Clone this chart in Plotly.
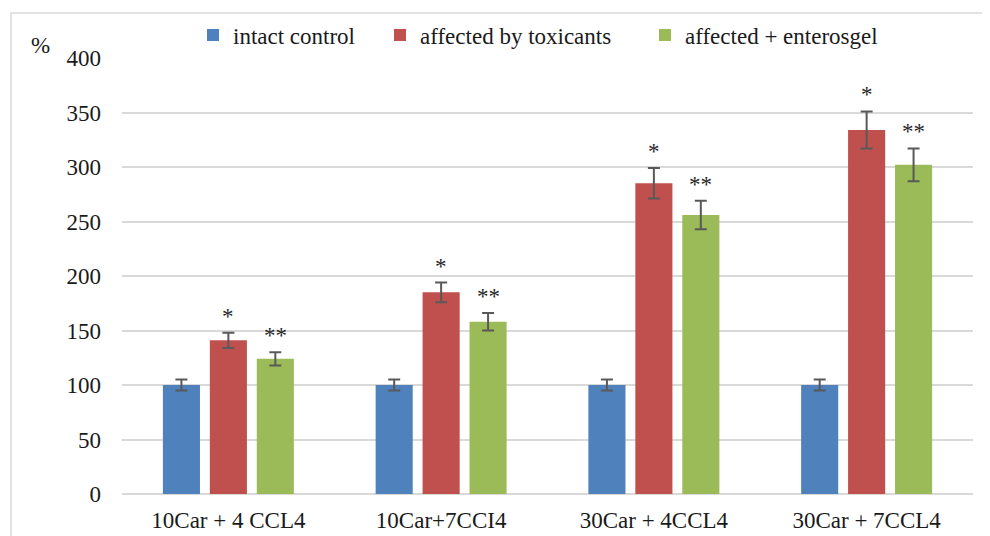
import plotly.graph_objects as go

categories = ["10Car + 4 CCL4", "10Car+7CCI4", "30Car + 4CCL4", "30Car + 7CCL4"]
series_names = ["intact control", "affected by toxicants", "affected + enterosgel"]
intact = [100, 100, 100, 100]
intact_err = [5, 5, 5, 5]
toxic = [141, 185, 285, 334]
toxic_err = [7, 9, 14, 17]
entero = [124, 158, 256, 302]
entero_err = [6, 8, 13, 15]
marks_toxic = ["*", "*", "*", "*"]
marks_entero = ["**", "**", "**", "**"]
y_ticks = [0, 50, 100, 150, 200, 250, 300, 350, 400]

colors = ["#4F81BD", "#C0504D", "#9BBB59"]
FONT = "Liberation Serif"
err_style = dict(type="data", thickness=2, width=6, color="#595959")
BARGAP = 0.338
bar_slot = (1 - BARGAP) / 3

# page body has an 8px margin -> compensate in figure margins
L, R, T, B = 114, 25, 50, 50
PW, PH = 990 - L - R, 536 - T - B


def px(xf):
    return (xf - L) / PW


def py(yf):
    return (536 - B - yf) / PH


legend_ids = ["legend", "legend2", "legend3"]
legend_left = [185, 372, 637]

fig = go.Figure()
for name, vals, errs, col, lid in zip(series_names, [intact, toxic, entero],
                                      [intact_err, toxic_err, entero_err], colors, legend_ids):
    fig.add_trace(go.Bar(
        x=categories, y=vals, name=name, legend=lid,
        marker=dict(color=col, line=dict(width=0)),
        error_y=dict(array=errs, **err_style),
    ))

# significance marks above error bars (red bar = middle slot, green bar = right slot)
for vals, errs, marks, off in [(toxic, toxic_err, marks_toxic, 0), (entero, entero_err, marks_entero, 1)]:
    for i, (v, e, m) in enumerate(zip(vals, errs, marks)):
        fig.add_annotation(
            x=i + off * bar_slot, y=v + e, xref="x", yref="y",
            text=m, showarrow=False, yanchor="bottom", xanchor="center", yshift=2,
            font=dict(family=FONT, size=23, color="#262626"),
        )

fig.add_annotation(text="%", xref="paper", yref="paper", x=px(32), y=py(37),
                   xanchor="center", yanchor="middle",
                   showarrow=False, font=dict(family=FONT, size=23, color="#1a1a1a"))

leg_common = dict(orientation="h", xanchor="left", y=py(27), yanchor="middle",
                  font=dict(family=FONT, size=23, color="#1a1a1a"),
                  bgcolor="rgba(0,0,0,0)", borderwidth=0)

fig.update_layout(
    width=990, height=536,
    margin=dict(l=L, r=R, t=T, b=B, autoexpand=False),
    paper_bgcolor="white", plot_bgcolor="white",
    barmode="group", bargap=BARGAP, bargroupgap=0.21,
    font=dict(family=FONT, size=23, color="#1a1a1a"),
    showlegend=True,
    legend=dict(x=px(legend_left[0]), **leg_common),
    legend2=dict(x=px(legend_left[1]), **leg_common),
    legend3=dict(x=px(legend_left[2]), **leg_common),
    xaxis=dict(showgrid=False, showline=False, ticks="", ticklabelstandoff=10,
               tickfont=dict(family=FONT, size=23)),
    yaxis=dict(range=[0, 400], tickvals=y_ticks, showgrid=True, gridcolor="#d9d9d9",
               gridwidth=2, zeroline=True, zerolinecolor="#d9d9d9", zerolinewidth=2,
               showline=False, ticks="", ticklabelstandoff=20,
               tickfont=dict(family=FONT, size=23)),
    shapes=[dict(type="rect", xref="paper", yref="paper",
                 x0=px(3), x1=px(1010), y0=py(560), y1=py(5),
                 line=dict(color="#d9d9d9", width=1.5), fillcolor="rgba(0,0,0,0)", layer="below")],
)

fig.write_html("out.html")
